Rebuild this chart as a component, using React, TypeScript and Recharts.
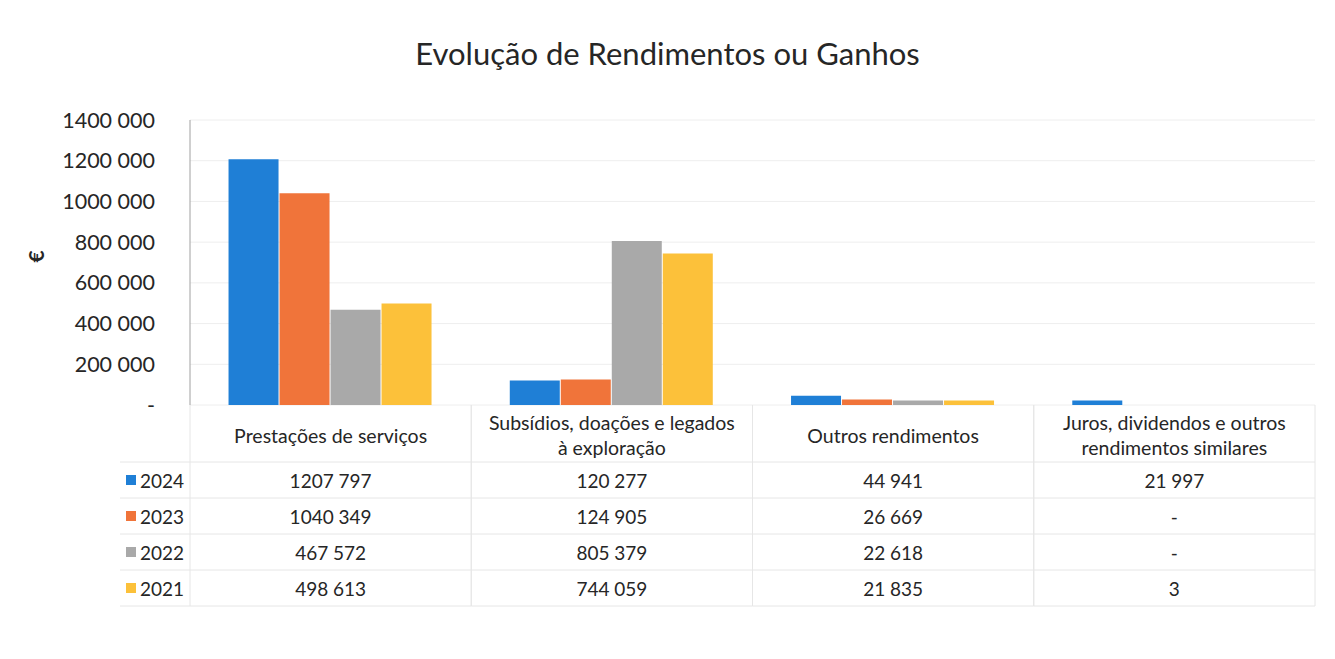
import React from 'react';
import { BarChart, Bar, XAxis, YAxis, CartesianGrid } from 'recharts';

// categories (\n = line break in the table header)
const categories = [
    'Prestações de serviços',
    'Subsídios, doações e legados\nà exploração',
    'Outros rendimentos',
    'Juros, dividendos e outros\nrendimentos similares',
];
const years = ['2024', '2023', '2022', '2021'];
const values2024 = [1207797, 120277, 44941, 21997];
const values2023 = [1040349, 124905, 26669, 0];
const values2022 = [467572, 805379, 22618, 0];
const values2021 = [498613, 744059, 21835, 3];
const yTicks = [0, 200000, 400000, 600000, 800000, 1000000, 1200000, 1400000];
const colors = ['#1f7fd6', '#f0743a', '#a9a9a9', '#fcc13a'];

const series = [values2024, values2023, values2022, values2021];

const chartData = categories.map((name, i) => {
    const row: Record<string, string | number> = { name };
    years.forEach((yr, s) => { row['y' + yr] = series[s][i]; });
    return row;
});

const CHART_W = 1319;
const CHART_H = 643;
const Y_W = 182;
const MARGIN = { top: 112, right: 12, left: 0, bottom: 0 };
const X_H = 246;
const BAND = (CHART_W - MARGIN.left - MARGIN.right - Y_W) / categories.length;

const FONT = 'Lato, "Open Sans", sans-serif';
const TEXT = '#262626';
const LINE = '#e6e6e6';

// 1400000 -> "1400 000", 0 -> "-"
const fmt = (v: number) => {
    if (!v) return '-';
    if (v < 1000) return String(v);
    return `${Math.floor(v / 1000)} ${String(v % 1000).padStart(3, '0')}`;
};

const ROW_TOP = 57;
const ROW_H = 36;

const TableTick = (props: any) => {
    const { x, y, payload } = props;
    const i = categories.indexOf(payload.value);
    const left = x - BAND / 2;
    const right = x + BAND / 2;
    const lines = categories[i].split('\n');
    const bottom = y + ROW_TOP + ROW_H * years.length;
    const legendW = 70;

    return (
        <g fontFamily={FONT} fill={TEXT}>
            {/* column borders */}
            <line x1={left} x2={left} y1={y} y2={bottom} stroke={LINE} />
            <line x1={right} x2={right} y1={y} y2={bottom} stroke={LINE} />
            {years.map((_, r) => (
                <line key={r} x1={i === 0 ? left - legendW : left} x2={right}
                    y1={y + ROW_TOP + ROW_H * r} y2={y + ROW_TOP + ROW_H * r} stroke={LINE} />
            ))}
            <line x1={i === 0 ? left - legendW : left} x2={right} y1={bottom} y2={bottom} stroke={LINE} />

            {/* header */}
            {lines.map((ln, k) => (
                <text key={k} x={x} y={y + (lines.length === 1 ? 30 : 17 + 25 * k)} textAnchor="middle"
                    dominantBaseline="central" fontSize={19.5}>{ln}</text>
            ))}

            {/* values */}
            {series.map((vals, r) => (
                <text key={r} x={x} y={y + ROW_TOP + ROW_H * r + ROW_H / 2} textAnchor="middle"
                    dominantBaseline="central" fontSize={19}>{fmt(vals[i])}</text>
            ))}

            {/* legend keys in the first column */}
            {i === 0 && years.map((yr, r) => (
                <g key={yr}>
                    <rect x={left - legendW + 6} y={y + ROW_TOP + ROW_H * r + ROW_H / 2 - 5} width={10} height={10}
                        fill={colors[r]} />
                    <text x={left - legendW + 20} y={y + ROW_TOP + ROW_H * r + ROW_H / 2}
                        dominantBaseline="central" fontSize={19}>{yr}</text>
                </g>
            ))}
        </g>
    );
};

export default function App() {
    return (
        <div style={{ position: 'relative', width: CHART_W, height: CHART_H, background: '#fff' }}>
            <div style={{
                position: 'absolute', top: 26, left: 0, width: CHART_W, textAlign: 'center',
                fontFamily: FONT, fontSize: 31, color: TEXT,
            }}>
                Evolução de Rendimentos ou Ganhos
            </div>
            <BarChart width={CHART_W} height={CHART_H} data={chartData} margin={MARGIN}
                barCategoryGap="13.7%" barGap={1}>
                <CartesianGrid vertical={false} stroke="#eeeeee" />
                <YAxis
                    width={Y_W}
                    domain={[0, 1400000]}
                    ticks={yTicks}
                    tickFormatter={fmt}
                    tickLine={false}
                    tickMargin={29}
                    axisLine={{ stroke: '#a0a0a0' }}
                    tick={{ fontSize: 21.5, fill: TEXT, fontFamily: FONT }}
                    label={{ value: '€', angle: -90, position: 'insideLeft', dx: 24, fontSize: 21, fontWeight: 'bold', fill: TEXT, fontFamily: FONT }}
                />
                <XAxis
                    dataKey="name"
                    height={X_H}
                    interval={0}
                    tickLine={false}
                    axisLine={false}
                    tickSize={0}
                    tickMargin={0}
                    tick={<TableTick />}
                />
                {years.map((yr, s) => (
                    <Bar key={yr} dataKey={'y' + yr} fill={colors[s]} isAnimationActive={false} />
                ))}
            </BarChart>
        </div>
    );
}
